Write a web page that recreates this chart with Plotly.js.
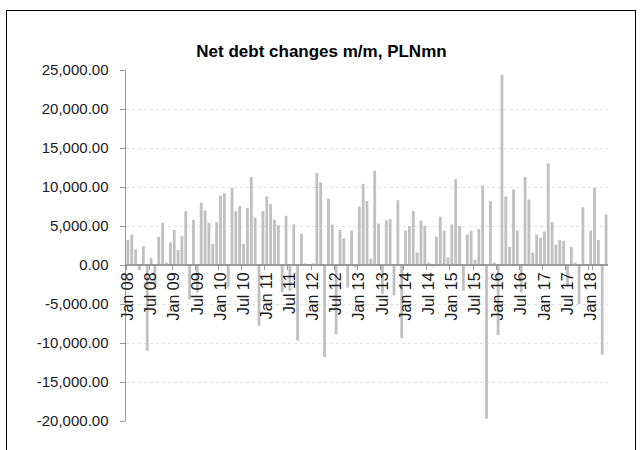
<!DOCTYPE html>
<html>
<head>
<meta charset="utf-8">
<script src="https://cdn.plot.ly/plotly-3.0.1.min.js"></script>
<style>
  html, body { margin: 0; padding: 0; background: #fff; overflow: hidden; }
  #chart { width: 643px; height: 450px; position: absolute; left: 0; top: 0; }
  #frame { position: absolute; left: 6px; top: 10px; width: 630px; height: 500px;
           border: 1px solid #000; box-sizing: border-box; pointer-events: none; }
</style>
</head>
<body>
<div id="chart"></div>
<div id="frame"></div>
<script>
// Monthly net debt changes, PLN mn, Jan 2008 - May 2018
const startYear = 2008;
const monthNames = ["Jan","Feb","Mar","Apr","May","Jun","Jul","Aug","Sep","Oct","Nov","Dec"];

const netDebtChange = [
  3200, 3900, 2000, -650, 2400, -11000, 900, -3100, 3600, 5400, 300, 2900,      // 2008
  4500, 1900, 3700, 6900, -4400, 5800, -3500, 8000, 7000, 5400, 2700, 5500,     // 2009
  8900, 9200, -2800, 9900, 6900, 7600, 2700, 7300, 11300, 6100, -7800, 6900,    // 2010
  8800, 7800, 5800, 5100, -3500, 6300, -3300, 5200, -9700, 4000, 200, 100,      // 2011
  200, 11800, 10600, -11800, 8500, 5200, -8900, 4500, 3400, -2900, 4400, -300,  // 2012
  7500, 10400, 8200, 800, 12100, 5300, -3700, 5700, 5900, -3900, 8300, -9400,   // 2013
  4400, 5000, 6900, 1600, 5700, 5000, 300, -200, 3600, 6200, 4400, 1000,        // 2014
  5200, 11000, 5000, -3300, 3900, 4400, 700, 4600, 10200, -19700, 8200, 300,    // 2015
  -9000, 24400, 8800, 2300, 9700, 4400, -3500, 11300, 8400, 1600, 3900, 3500,   // 2016
  4300, 13000, 5500, 2600, 3200, 3100, -2800, 2300, 300, -5000, 7400, 100,      // 2017
  4400, 9900, 3200, -11500, 6500                                                // 2018
];

const tickLabels = ["Jan 08","Jul 08","Jan 09","Jul 09","Jan 10","Jul 10","Jan 11","Jul 11",
  "Jan 12","Jul 12","Jan 13","Jul 13","Jan 14","Jul 14","Jan 15","Jul 15","Jan 16","Jul 16",
  "Jan 17","Jul 17","Jan 18"];

const yTicks = [-20000, -15000, -10000, -5000, 0, 5000, 10000, 15000, 20000, 25000];
const yTickLabels = ["-20,000.00","-15,000.00","-10,000.00","-5,000.00","0.00",
  "5,000.00","10,000.00","15,000.00","20,000.00","25,000.00"];

const categories = netDebtChange.map((_, i) => {
  const y = startYear + Math.floor(i / 12);
  return monthNames[i % 12] + " " + String(y % 100).padStart(2, "0");
});

const yMin = -20000, yMax = 25000;

const trace = {
  type: "bar",
  x: categories,
  y: netDebtChange,
  marker: { color: "#c0c0c0", line: { width: 0 } },
  hoverinfo: "x+y"
};

const layout = {
  width: 643,
  height: 450,
  margin: { l: 126, r: 35, t: 70, b: 29, pad: 0 },
  paper_bgcolor: "#ffffff",
  plot_bgcolor: "#ffffff",
  showlegend: false,
  bargap: 0.27,
  font: { family: "Liberation Sans, Arial, sans-serif", color: "#1a1a1a" },
  title: {
    text: "<b>Net debt changes m/m, PLNmn</b>",
    font: { family: "Liberation Sans, Arial, sans-serif", size: 17, color: "#000" },
    xref: "container", x: 0.5, xanchor: "center",
    yref: "container", y: 0.887, yanchor: "middle"
  },
  xaxis: {
    type: "category",
    anchor: "free",
    position: (0 - yMin) / (yMax - yMin),
    tickmode: "array",
    tickvals: tickLabels,
    ticktext: tickLabels,
    tickson: "boundaries",
    tickangle: -90,
    ticks: "outside",
    ticklen: 4,
    tickcolor: "#999",
    tickwidth: 1,
    showline: true,
    linecolor: "#999",
    linewidth: 2,
    showgrid: false,
    zeroline: false,
    tickfont: { size: 16, color: "#1a1a1a" },
    fixedrange: true
  },
  yaxis: {
    range: [yMin, yMax],
    tickmode: "array",
    tickvals: yTicks,
    ticktext: yTickLabels,
    ticks: "outside",
    ticklen: 5,
    tickcolor: "#999",
    showline: true,
    linecolor: "#999",
    linewidth: 1.5,
    showgrid: true,
    gridcolor: "#e2e2e2",
    griddash: "dot",
    gridwidth: 1,
    zeroline: false,
    ticklabelstandoff: 8,
    tickfont: { size: 15, color: "#1a1a1a" },
    fixedrange: true
  }
};

Plotly.newPlot("chart", [trace], layout, { displayModeBar: false, staticPlot: true });
</script>
</body>
</html>
